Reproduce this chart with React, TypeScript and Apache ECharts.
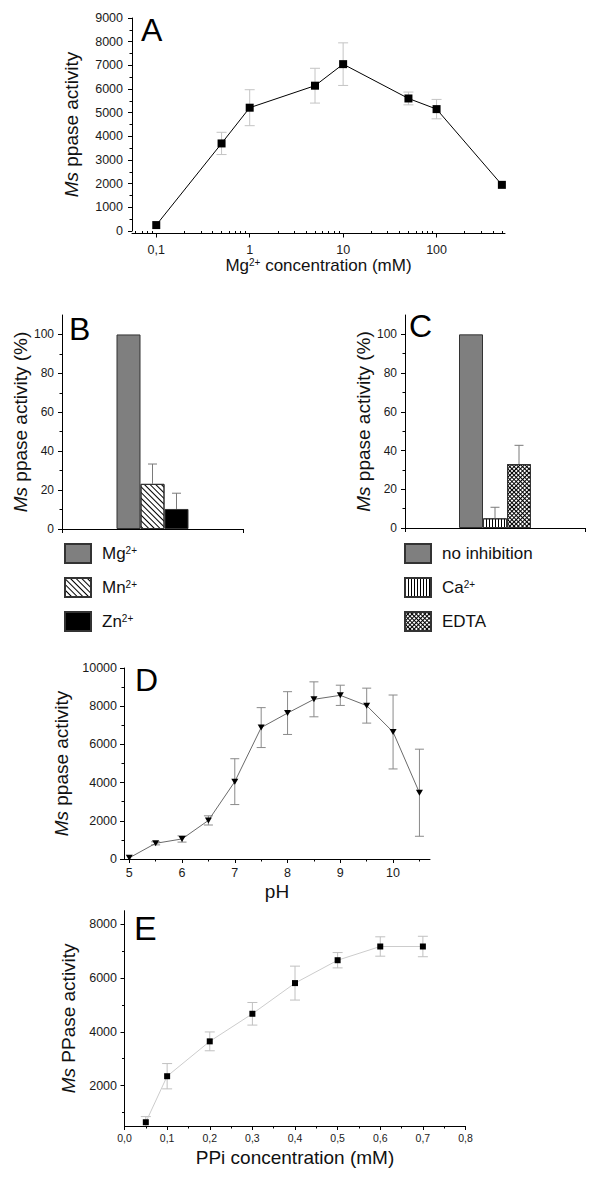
import React, { useEffect, useRef } from 'react';
import * as echarts from 'echarts';

const FONT = '"Liberation Sans", Arial, Helvetica, sans-serif';

// ---- Panel A: activity vs Mg2+ concentration (log axis)
const A_CONC = [0.1, 0.5, 1, 5, 10, 50, 100, 500];
const A_ACTIVITY = [250, 3700, 5210, 6140, 7050, 5600, 5150, 1950];
const A_ERROR = [0, 470, 760, 735, 900, 270, 410, 0];
const A_TICKS = [0.1, 1, 10, 100];
const A_MINOR_TICKS = [0.06, 0.07, 0.08, 0.09, 0.2, 0.3, 0.4, 0.5, 0.6, 0.7, 0.8, 0.9, 2, 3, 4, 5, 6, 7, 8, 9, 20, 30, 40, 50, 60, 70, 80, 90, 200, 300, 400, 500];

// ---- Panel B: metal ions
const B_IONS = ['Mg2+', 'Mn2+', 'Zn2+'];
const B_VALUES = [100, 23.2, 10.3];
const B_ERRORS = [0, 10.2, 8.1];

// ---- Panel C: inhibitors
const C_CONDITIONS = ['no inhibition', 'Ca2+', 'EDTA'];
const C_VALUES = [100, 5.0, 33.0];
const C_ERRORS = [0, 5.7, 9.7];
const PERCENT_TICKS = [0, 20, 40, 60, 80, 100];

// ---- Panel D: pH
const D_PH = [5, 5.5, 6, 6.5, 7, 7.5, 8, 8.5, 9, 9.5, 10, 10.5];
const D_ACTIVITY = [60, 820, 1050, 2020, 4050, 6880, 7640, 8360, 8570, 8030, 6650, 3470];
const D_ERROR = [0, 80, 165, 240, 1200, 1045, 1120, 915, 530, 915, 1935, 2280];
const D_TICKS = [5, 6, 7, 8, 9, 10];

// ---- Panel E: PPi concentration
const E_PPI = [0.05, 0.1, 0.2, 0.3, 0.4, 0.5, 0.6, 0.7];
const E_ACTIVITY = [640, 2350, 3645, 4670, 5810, 6660, 7170, 7170];
const E_ERROR = [210, 470, 350, 420, 630, 285, 360, 380];
const E_TICKS = [2000, 4000, 6000, 8000];

const PANEL_LETTERS = ['A', 'B', 'C', 'D', 'E'];
const LETTER_POS = [[141, 30, 32], [69, 329, 32], [409, 326, 32], [135, 680, 32], [134, 928, 34]];

const BAR_W = 24;

const DECAL_DIAG = { symbol: 'rect', symbolSize: 1, dashArrayX: [1, 0], dashArrayY: [1, 2.5], rotation: Math.PI / 4, color: '#000' };
const DECAL_VERT = { symbol: 'rect', symbolSize: 1, dashArrayX: [1, 1.8], dashArrayY: [1, 0], rotation: 0, color: '#000' };
const DECAL_CROSS = { symbol: 'rect', symbolSize: 1, dashArrayX: [[1, 0], [1, 2], [1, 2]], dashArrayY: [1, 0], rotation: Math.PI / 4, color: '#000' };

const B_STYLES: any[] = [
  { color: '#7f7f7f' },
  { color: '#ffffff', decal: DECAL_DIAG },
  { color: '#000000' },
];
const C_STYLES: any[] = [
  { color: '#7f7f7f' },
  { color: '#ffffff', decal: DECAL_VERT },
  { color: '#ffffff', decal: DECAL_CROSS },
];

const plain = (v: number) => String(v);

const AXIS_LINE = { show: true, onZero: false, lineStyle: { color: '#000', width: 1 } };
const tick = (len: number, customValues?: number[]) => ({
  show: true, inside: false, length: len, lineStyle: { color: '#000', width: 1 },
  ...(customValues ? { customValues } : {}),
});
const MINOR = { show: true, splitNumber: 2, length: 2.5, lineStyle: { color: '#000', width: 1 } };
const label = (size: number, margin: number, extra: any = {}) => ({
  show: true, fontSize: size, fontFamily: FONT, color: '#1a1a1a', margin, formatter: plain, ...extra,
});
const nameStyle = (size: number) => ({
  fontSize: size, fontFamily: FONT, color: '#111',
  rich: {
    i: { fontStyle: 'italic', fontSize: size, fontFamily: FONT, color: '#111' },
    sup: { fontSize: 10, fontFamily: FONT, color: '#111', verticalAlign: 'top' },
  },
});
const NO_SPLIT = { show: false };

const supFmt = (name: string) => name.replace(/(\d\+)$/, '{sup|$1}');

const errRenderer = (color: string, cap: number) => (params: any, api: any) => {
  const x = api.value(0), lo = api.value(1), hi = api.value(2);
  if (!(hi > lo)) return null;
  const p1 = api.coord([x, hi]);
  const p2 = api.coord([x, lo]);
  const style = { stroke: color, lineWidth: 1, fill: null };
  return {
    type: 'group',
    children: [
      { type: 'line', shape: { x1: p1[0], y1: p1[1], x2: p2[0], y2: p2[1] }, style },
      { type: 'line', shape: { x1: p1[0] - cap, y1: p1[1], x2: p1[0] + cap, y2: p1[1] }, style },
      { type: 'line', shape: { x1: p2[0] - cap, y1: p2[1], x2: p2[0] + cap, y2: p2[1] }, style },
    ],
  };
};

const barErrRenderer = (color: string, cap: number, count: number) => (params: any, api: any) => {
  const v = api.value(1), hi = api.value(2), idx = api.value(3);
  if (!(hi > v)) return null;
  const off = (idx - (count - 1) / 2) * BAR_W;
  const p1 = api.coord([0, hi]);
  const p2 = api.coord([0, v]);
  const x = p1[0] + off;
  const style = { stroke: color, lineWidth: 1, fill: null };
  return {
    type: 'group',
    children: [
      { type: 'line', shape: { x1: x, y1: p1[1], x2: x, y2: p2[1] }, style },
      { type: 'line', shape: { x1: x - cap, y1: p1[1], x2: x + cap, y2: p1[1] }, style },
    ],
  };
};

const legend = (names: string[], left: number, top: number) => ({
  data: names, left, top, orient: 'vertical', icon: 'rect', itemWidth: 26, itemHeight: 19, itemGap: 13,
  padding: 0, selectedMode: false, formatter: supFmt,
  textStyle: {
    fontSize: 17, fontFamily: FONT, color: '#111', padding: [0, 0, 0, 6],
    rich: { sup: { fontSize: 10, fontFamily: FONT, color: '#111', verticalAlign: 'top' } },
  },
});

function buildOption() {
  const gridBase = { containLabel: false, outerBoundsMode: 'none' };
  return {
    animation: false,
    backgroundColor: '#ffffff',
    textStyle: { fontFamily: FONT },
    grid: [
      { ...gridBase, left: 132, top: 18, width: 373, height: 213 },
      { ...gridBase, left: 62, top: 315, width: 181, height: 214 },
      { ...gridBase, left: 405, top: 315, width: 180, height: 213 },
      { ...gridBase, left: 124, top: 668, width: 306, height: 191 },
      { ...gridBase, left: 124.5, top: 910.7, width: 341, height: 215.3 },
    ],
    xAxis: [
      {
        type: 'log', gridIndex: 0, min: 0.055, max: 540, position: 'bottom', offset: 2.5,
        axisLine: AXIS_LINE, axisTick: tick(4, A_TICKS),
        axisLabel: label(12.5, 10, {
          customValues: A_TICKS,
          formatter: (v: number) => (v < 1 ? v.toFixed(1) : String(Math.round(v))).replace('.', ','),
        }),
        splitLine: NO_SPLIT, minorTick: { show: false },
        name: 'Mg{sup|2+} concentration (mM)', nameLocation: 'middle', nameGap: 23, nameTextStyle: nameStyle(17),
      },
      {
        type: 'log', gridIndex: 0, min: 0.055, max: 540, position: 'bottom', offset: 2.5,
        axisLine: { show: false }, axisTick: tick(2.5, A_MINOR_TICKS), axisLabel: { show: false },
        splitLine: NO_SPLIT,
      },
      {
        type: 'category', gridIndex: 1, data: [''], position: 'bottom',
        axisLine: AXIS_LINE, axisTick: { show: true, length: 4, lineStyle: { color: '#000', width: 1 } },
        axisLabel: { show: false }, splitLine: NO_SPLIT,
      },
      {
        type: 'category', gridIndex: 2, data: [''], position: 'bottom',
        axisLine: AXIS_LINE, axisTick: { show: true, length: 4, lineStyle: { color: '#000', width: 1 } },
        axisLabel: { show: false }, splitLine: NO_SPLIT,
      },
      {
        type: 'value', gridIndex: 3, min: 4.9, max: 10.7, position: 'bottom',
        axisLine: AXIS_LINE, axisTick: tick(4, D_TICKS), minorTick: MINOR,
        axisLabel: label(12.5, 7, { customValues: D_TICKS }),
        splitLine: NO_SPLIT, minorSplitLine: NO_SPLIT,
        name: 'pH', nameLocation: 'middle', nameGap: 23, nameTextStyle: nameStyle(19),
      },
      {
        type: 'value', gridIndex: 4, min: 0, max: 0.8, interval: 0.1, position: 'bottom',
        axisLine: AXIS_LINE, axisTick: tick(4), minorTick: MINOR,
        axisLabel: label(10.5, 6.5, { formatter: (v: number) => v.toFixed(1).replace('.', ',') }),
        splitLine: NO_SPLIT, minorSplitLine: NO_SPLIT,
        name: 'PPi concentration (mM)', nameLocation: 'middle', nameGap: 22, nameTextStyle: nameStyle(19),
      },
    ],
    yAxis: [
      {
        type: 'value', gridIndex: 0, min: 0, max: 9000, interval: 1000,
        axisLine: AXIS_LINE, axisTick: tick(4), minorTick: MINOR,
        axisLabel: label(12.5, 9), splitLine: NO_SPLIT, minorSplitLine: NO_SPLIT,
        name: '{i|Ms} ppase activity', nameLocation: 'middle', nameRotate: 90, nameGap: 51, nameTextStyle: nameStyle(19),
      },
      {
        type: 'value', gridIndex: 1, min: 0, max: 110,
        axisLine: AXIS_LINE, axisTick: tick(4, PERCENT_TICKS), minorTick: MINOR,
        axisLabel: label(12, 8, { customValues: PERCENT_TICKS }), splitLine: NO_SPLIT, minorSplitLine: NO_SPLIT,
        name: '{i|Ms} ppase activity (%)', nameLocation: 'middle', nameRotate: 90, nameGap: 28, nameTextStyle: nameStyle(19),
      },
      {
        type: 'value', gridIndex: 2, min: 0, max: 110,
        axisLine: AXIS_LINE, axisTick: tick(4, PERCENT_TICKS), minorTick: MINOR,
        axisLabel: label(12, 8, { customValues: PERCENT_TICKS }), splitLine: NO_SPLIT, minorSplitLine: NO_SPLIT,
        name: '{i|Ms} ppase activity (%)', nameLocation: 'middle', nameRotate: 90, nameGap: 31, nameTextStyle: nameStyle(19),
      },
      {
        type: 'value', gridIndex: 3, min: 0, max: 10000, interval: 2000,
        axisLine: AXIS_LINE, axisTick: tick(4), minorTick: MINOR,
        axisLabel: label(12.5, 7), splitLine: NO_SPLIT, minorSplitLine: NO_SPLIT,
        name: '{i|Ms} ppase activity', nameLocation: 'middle', nameRotate: 90, nameGap: 42, nameTextStyle: nameStyle(19),
      },
      {
        type: 'value', gridIndex: 4, min: 500, max: 8500,
        axisLine: AXIS_LINE, axisTick: tick(4, E_TICKS), minorTick: MINOR,
        axisLabel: label(12.5, 7.5, { customValues: E_TICKS }), splitLine: NO_SPLIT, minorSplitLine: NO_SPLIT,
        name: '{i|Ms} PPase activity', nameLocation: 'middle', nameRotate: 90, nameGap: 41, nameTextStyle: nameStyle(19),
      },
    ],
    legend: [legend(B_IONS, 64, 543), legend(C_CONDITIONS, 404, 543)],
    graphic: PANEL_LETTERS.map((letter, i) => ({
      type: 'text', x: LETTER_POS[i][0], y: LETTER_POS[i][1], silent: true,
      style: { text: letter, fontSize: LETTER_POS[i][2], fontFamily: FONT, fill: '#000', verticalAlign: 'middle', align: 'left' },
    })),
    series: [
      // A
      {
        type: 'custom', xAxisIndex: 0, yAxisIndex: 0, z: 1, silent: true,
        data: A_CONC.map((x, i) => [x, A_ACTIVITY[i] - A_ERROR[i], A_ACTIVITY[i] + A_ERROR[i]]),
        encode: { x: 0, y: [1, 2] }, renderItem: errRenderer('#c4c4c4', 5),
      },
      {
        type: 'line', name: 'A', xAxisIndex: 0, yAxisIndex: 0, z: 3,
        data: A_CONC.map((x, i) => [x, A_ACTIVITY[i]]),
        symbol: 'rect', symbolSize: 8, showAllSymbol: true,
        lineStyle: { color: '#000', width: 1 }, itemStyle: { color: '#000' }, emphasis: { disabled: true },
      },
      // B
      ...B_IONS.map((name, i) => ({
        type: 'bar', name, xAxisIndex: 2, yAxisIndex: 1, data: [B_VALUES[i]], barWidth: BAR_W, barGap: '0%',
        itemStyle: { ...B_STYLES[i], borderColor: '#333', borderWidth: 1 }, emphasis: { disabled: true }, z: 2,
      })),
      {
        type: 'custom', xAxisIndex: 2, yAxisIndex: 1, z: 3, silent: true,
        data: B_VALUES.map((v, i) => [0, v, v + B_ERRORS[i], i]),
        encode: { x: 0, y: [1, 2] }, renderItem: barErrRenderer('#7a7a7a', 4.5, B_VALUES.length),
      },
      // C
      ...C_CONDITIONS.map((name, i) => ({
        type: 'bar', name, xAxisIndex: 3, yAxisIndex: 2, data: [C_VALUES[i]], barWidth: BAR_W, barGap: '0%',
        itemStyle: { ...C_STYLES[i], borderColor: '#333', borderWidth: 1 }, emphasis: { disabled: true }, z: 2,
      })),
      {
        type: 'custom', xAxisIndex: 3, yAxisIndex: 2, z: 3, silent: true,
        data: C_VALUES.map((v, i) => [0, v, v + C_ERRORS[i], i]),
        encode: { x: 0, y: [1, 2] }, renderItem: barErrRenderer('#7a7a7a', 4.5, C_VALUES.length),
      },
      // D
      {
        type: 'custom', xAxisIndex: 4, yAxisIndex: 3, z: 1, silent: true,
        data: D_PH.map((x, i) => [x, D_ACTIVITY[i] - D_ERROR[i], D_ACTIVITY[i] + D_ERROR[i]]),
        encode: { x: 0, y: [1, 2] }, renderItem: errRenderer('#8a8a8a', 4.5),
      },
      {
        type: 'line', name: 'D', xAxisIndex: 4, yAxisIndex: 3, z: 3,
        data: D_PH.map((x, i) => [x, D_ACTIVITY[i]]),
        symbol: 'triangle', symbolRotate: 180, symbolSize: [7, 6], showAllSymbol: true,
        lineStyle: { color: '#6a6a6a', width: 1 }, itemStyle: { color: '#000' }, emphasis: { disabled: true },
      },
      // E
      {
        type: 'custom', xAxisIndex: 5, yAxisIndex: 4, z: 1, silent: true, clip: true,
        data: E_PPI.map((x, i) => [x, E_ACTIVITY[i] - E_ERROR[i], E_ACTIVITY[i] + E_ERROR[i]]),
        encode: { x: 0, y: [1, 2] }, renderItem: errRenderer('#c0c0c0', 5),
      },
      {
        type: 'line', name: 'E', xAxisIndex: 5, yAxisIndex: 4, z: 3,
        data: E_PPI.map((x, i) => [x, E_ACTIVITY[i]]),
        symbol: 'rect', symbolSize: 6, showAllSymbol: true,
        lineStyle: { color: '#cccccc', width: 1 }, itemStyle: { color: '#000' }, emphasis: { disabled: true },
      },
    ],
  };
}

export default function App() {
  const ref = useRef<HTMLDivElement>(null);
  useEffect(() => {
    if (!ref.current) return;
    const chart = echarts.init(ref.current, null, { renderer: 'svg' });
    chart.setOption(buildOption() as any);
    return () => chart.dispose();
  }, []);
  return (
    <div
      ref={ref}
      style={{ position: 'absolute', left: 0, top: 0, width: 600, height: 1178, background: '#fff' }}
    />
  );
}
